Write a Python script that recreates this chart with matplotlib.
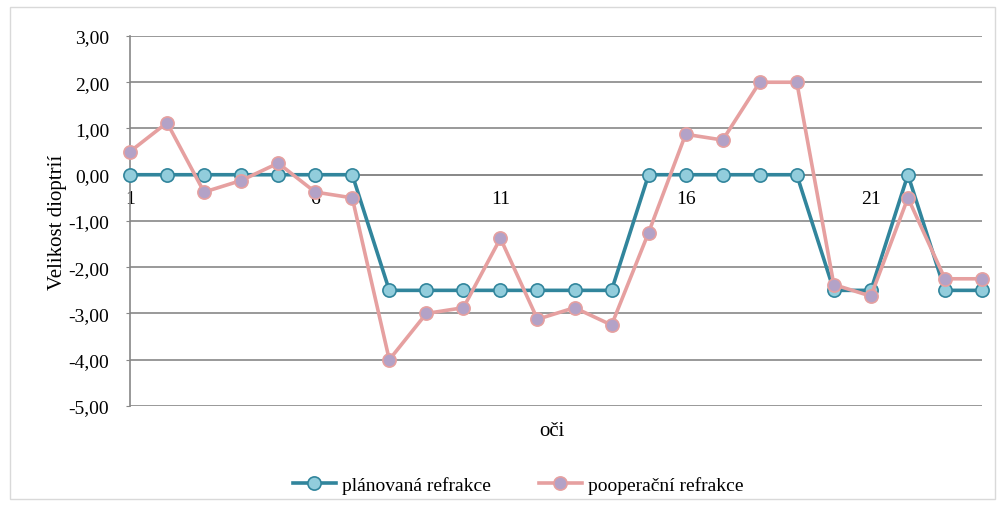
import matplotlib
matplotlib.use("Agg")
import matplotlib.pyplot as plt
from matplotlib.patches import Rectangle
from matplotlib.ticker import FixedLocator, FuncFormatter

eyes = list(range(1, 25))
planned = [0, 0, 0, 0, 0, 0, 0, -2.5, -2.5, -2.5, -2.5, -2.5, -2.5, -2.5,
           0, 0, 0, 0, 0, -2.5, -2.5, 0, -2.5, -2.5]
postop = [0.5, 1.125, -0.375, -0.125, 0.25, -0.375, -0.5, -4.0, -3.0, -2.875,
          -1.375, -3.125, -2.875, -3.25, -1.25, 0.875, 0.75, 2.0, 2.0, -2.375,
          -2.625, -0.5, -2.25, -2.25]
xtick_labels = ["1", "6", "11", "16", "21"]
xtick_pos = [1, 6, 11, 16, 21]
yticks = [3, 2, 1, 0, -1, -2, -3, -4, -5]
series_names = ["plánovaná refrakce", "pooperační refrakce"]

plt.rcParams['font.family'] = ['Liberation Serif', 'DejaVu Serif']

fig = plt.figure(figsize=(10, 5.06), dpi=100)
fig.patches.append(Rectangle((0.01, 0.012), 0.985, 0.972, transform=fig.transFigure,
                             fill=False, edgecolor='#d9d9d9', linewidth=1.0))
ax = fig.add_axes([0.13, 0.1957, 0.852, 0.7312])

ax.set_xlim(1, 24)
ax.set_ylim(-5, 3)
ax.yaxis.set_major_locator(FixedLocator(yticks))
ax.yaxis.set_major_formatter(FuncFormatter(lambda v, p: f"{v:.2f}".replace('.', ',')))
ax.grid(axis='y', color='#878787', linewidth=1.2)
ax.set_axisbelow(True)

for s in ['top', 'right']:
    ax.spines[s].set_visible(False)
ax.spines['left'].set_color('#878787')
ax.spines['left'].set_linewidth(1.2)
ax.spines['bottom'].set_position(('data', 0))
ax.spines['bottom'].set_color('#878787')
ax.spines['bottom'].set_linewidth(1.2)

ax.set_xticks(xtick_pos)
ax.set_xticklabels(xtick_labels)
ax.tick_params(axis='x', length=0, pad=11, labelsize=14)
ax.tick_params(axis='y', length=3, color='#878787', labelsize=14, pad=12)

ax.plot(eyes, planned, color='#31859C', linewidth=2.6, marker='o', markersize=9.5,
        markerfacecolor='#92CDDC', markeredgecolor='#31859C', markeredgewidth=1.2,
        label=series_names[0], clip_on=False, zorder=3)
ax.plot(eyes, postop, color='#E6A0A0', linewidth=2.6, marker='o', markersize=9.5,
        markerfacecolor='#B3A2C7', markeredgecolor='#E6A0A0', markeredgewidth=1.2,
        label=series_names[1], clip_on=False, zorder=4)

ax.set_ylabel("Velikost dioptrií", fontsize=15, labelpad=1)
fig.text(0.552, 0.148, "oči", ha='center', va='center', fontsize=15)

leg = fig.legend(loc='center', bbox_to_anchor=(0.518, 0.040), ncol=2, frameon=False,
                 fontsize=14, handlelength=2.2, handletextpad=0.3, columnspacing=2.5)

fig.savefig("out.png", dpi=100)
